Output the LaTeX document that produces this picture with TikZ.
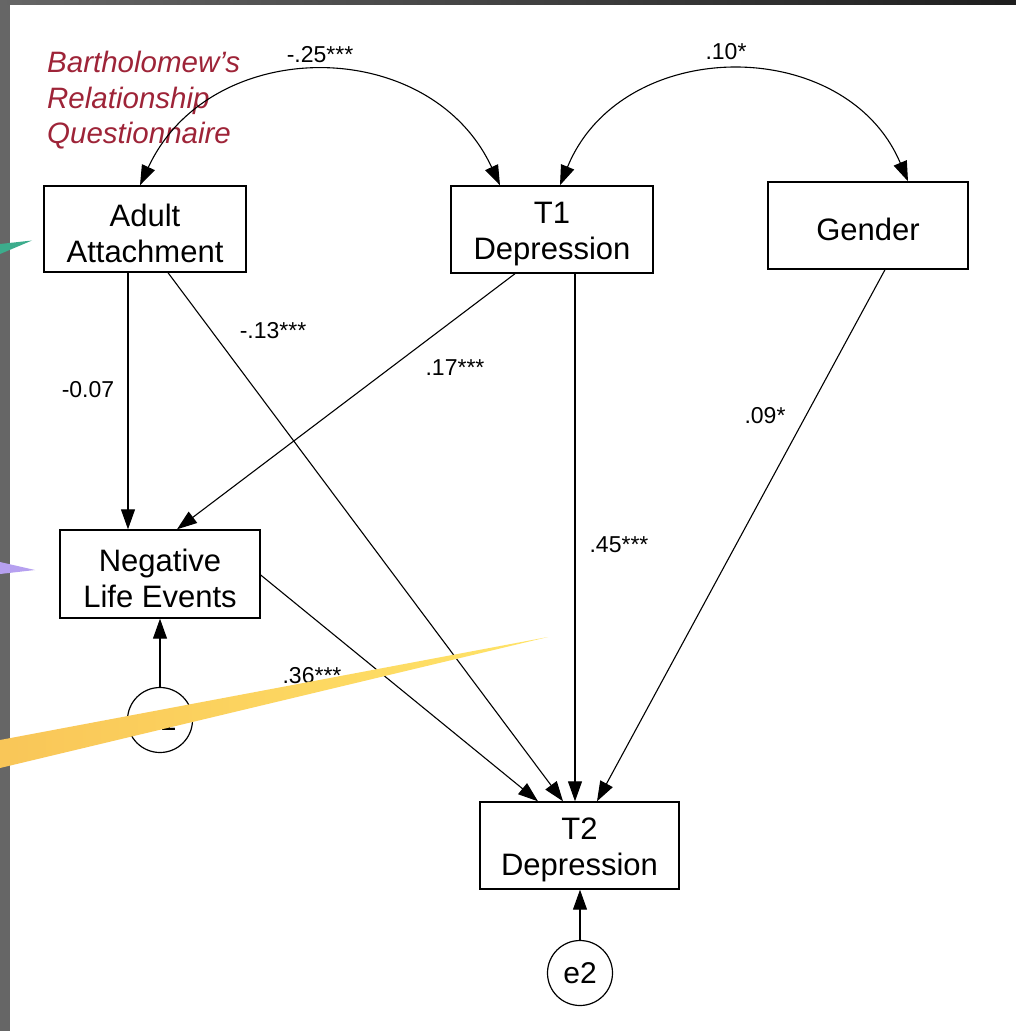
\documentclass[tikz,border=0pt]{standalone}
\usepackage{fontspec}
\setmainfont{Liberation Sans}
\usetikzlibrary{arrows.meta}

\definecolor{framegrey}{RGB}{102,102,102}
\definecolor{framedark}{RGB}{30,30,30}
\definecolor{titlered}{RGB}{158,36,56}
\definecolor{tealmark}{RGB}{60,172,140}
\definecolor{lilacmark}{RGB}{182,160,240}
\definecolor{goldleft}{RGB}{249,198,88}
\definecolor{goldright}{RGB}{255,228,104}

% invisible strut that sets the height of the first line in a box
\newcommand\firstline{\rule{0pt}{31pt}}

\begin{document}
\begin{tikzpicture}[x=1pt,y=-1pt,
  varbox/.style={draw, line width=1.4pt, inner sep=0pt, align=center,
    font=\fontsize{31}{36}\selectfont},
  errnode/.style={draw, circle, line width=1.2pt, inner sep=0pt,
    minimum size=65pt, font=\fontsize{30}{32}\selectfont},
  tip/.tip={Triangle[length=20pt,width=14pt]},
  regpath/.style={line width=1.1pt, -tip},
  covpath/.style={line width=1.1pt, tip-tip},
  coef/.style={inner sep=0pt, font=\fontsize{23}{25}\selectfont},
  titletext/.style={anchor=base west, inner sep=0pt, text=titlered,
    font=\fontsize{29.5}{34}\selectfont\itshape}]

\useasboundingbox (0,0) rectangle (1016,1031);
\fill[white] (0,0) rectangle (1016,1031);

% slide frame
\fill[framegrey] (0,0) rectangle (10,1031);
\shade[left color=framegrey, right color=framedark] (0,0) rectangle (1016,4);

% caption
\node[titletext] (q1) at (47,72) {Bartholomew’s};
\node[titletext] (q2) at (47,108) {Relationship};
\node[titletext] (q3) at (47,143) {Questionnaire};

% observed variables
\node[varbox, minimum width=202pt, minimum height=86pt] (adult) at (145,229) {\firstline Adult\\Attachment};
\node[varbox, minimum width=202pt, minimum height=87pt] (t1) at (552,229.5) {\firstline T1\\Depression};
\node[varbox, minimum width=200pt, minimum height=87pt] (gender) at (868,225.5) {\firstline Gender};
\node[varbox, minimum width=200pt, minimum height=88pt] (nle) at (160,574) {\firstline Negative\\Life Events};
\node[varbox, minimum width=199pt, minimum height=87pt] (t2) at (579.5,845.5) {\firstline T2\\Depression};

% error terms
\node[errnode] (e1) at (160,720) {e1};
\node[errnode] (e2) at (580,973) {e2};

% covariances
\draw[covpath] ([xshift=-5pt]adult.north) .. controls +(70,-151) and +(-70,-151) .. ([xshift=-52pt]t1.north);
\draw[covpath] ([xshift=8pt]t1.north) .. controls +(62,-151) and +(-62,-147) .. ([xshift=40pt]gender.north);

% regression paths
\draw[regpath] ([xshift=-17pt]adult.south) -- ([xshift=-32pt]nle.north);
\draw[regpath] ([xshift=23pt]adult.south) -- ([xshift=-16.5pt]t2.north);
\draw[regpath] ([xshift=-37pt]t1.south) -- ([xshift=17pt]nle.north);
\draw[regpath] ([xshift=23pt]t1.south) -- ([xshift=-4.5pt]t2.north);
\draw[regpath] ([xshift=17pt]gender.south) -- ([xshift=17.5pt]t2.north);
\draw[regpath] ([yshift=-1pt]nle.east) -- ([xshift=-41.5pt]t2.north);
\draw[regpath] (e1.north) -- (nle.south);
\draw[regpath] (e2.north) -- ([xshift=0.5pt]t2.south);

% coefficients
\node[coef] (c25) at (320,55) {-.25***};
\node[coef] (c10) at (726,52) {.10*};
\node[coef] (c13) at (273,331) {-.13***};
\node[coef] (c07) at (88,390) {-0.07};
\node[coef] (c17) at (455,368) {.17***};
\node[coef] (c09) at (765,416) {.09*};
\node[coef] (c45) at (619,545) {.45***};
\node[coef] (c36) at (312,676) {.36***};

% pointer wedges
\fill[tealmark] (0,244) -- (32,240.5) -- (0,254) -- cycle;
\fill[lilacmark] (0,562) -- (35,570) -- (0,574) -- cycle;
\shade[left color=goldleft, right color=goldright]
  (0,740) -- (548,637) -- (0,768) -- cycle;
\end{tikzpicture}
\end{document}
